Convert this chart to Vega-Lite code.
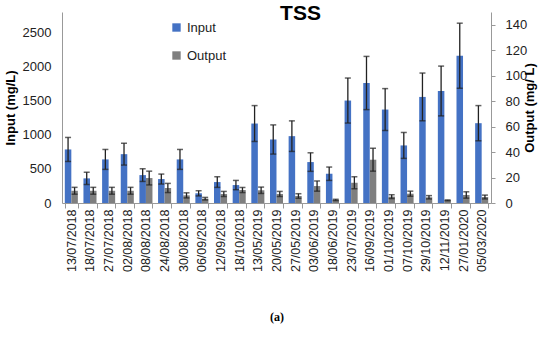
{
  "$schema": "https://vega.github.io/schema/vega-lite/v6.json",
  "autosize": "none",
  "width": 429,
  "height": 191,
  "padding": {"left": 62, "top": 12, "right": 59, "bottom": 139},
  "background": "white",
  "config": {"view": {"stroke": null}, "font": "Liberation Sans"},
  "title": {"text": "TSS", "fontSize": 21, "font": "Liberation Sans", "fontWeight": "bold", "color": "#000", "anchor": "middle", "dx": 24, "offset": -12},
  "datasets": {
    "rows": [
      {"date": "13/07/2018", "series": "Input", "value": 785, "lo": 609, "hi": 961},
      {"date": "18/07/2018", "series": "Input", "value": 361, "lo": 271, "hi": 451},
      {"date": "27/07/2018", "series": "Input", "value": 639, "lo": 493, "hi": 785},
      {"date": "02/08/2018", "series": "Input", "value": 716, "lo": 556, "hi": 876},
      {"date": "08/08/2018", "series": "Input", "value": 409, "lo": 316, "hi": 502},
      {"date": "24/08/2018", "series": "Input", "value": 351, "lo": 278, "hi": 424},
      {"date": "30/08/2018", "series": "Input", "value": 639, "lo": 493, "hi": 785},
      {"date": "06/09/2018", "series": "Input", "value": 142, "lo": 104, "hi": 180},
      {"date": "12/09/2018", "series": "Input", "value": 307, "lo": 229, "hi": 385},
      {"date": "18/10/2018", "series": "Input", "value": 263, "lo": 195, "hi": 331},
      {"date": "13/05/2019", "series": "Input", "value": 1165, "lo": 902, "hi": 1428},
      {"date": "20/05/2019", "series": "Input", "value": 931, "lo": 717, "hi": 1145},
      {"date": "27/05/2019", "series": "Input", "value": 980, "lo": 756, "hi": 1204},
      {"date": "03/06/2019", "series": "Input", "value": 600, "lo": 464, "hi": 736},
      {"date": "18/06/2019", "series": "Input", "value": 429, "lo": 331, "hi": 527},
      {"date": "23/07/2019", "series": "Input", "value": 1502, "lo": 1172, "hi": 1832},
      {"date": "16/09/2019", "series": "Input", "value": 1759, "lo": 1369, "hi": 2149},
      {"date": "01/10/2019", "series": "Input", "value": 1370, "lo": 1063, "hi": 1677},
      {"date": "07/10/2019", "series": "Input", "value": 844, "lo": 654, "hi": 1034},
      {"date": "29/10/2019", "series": "Input", "value": 1555, "lo": 1205, "hi": 1905},
      {"date": "12/11/2019", "series": "Input", "value": 1642, "lo": 1277, "hi": 2007},
      {"date": "27/01/2020", "series": "Input", "value": 2159, "lo": 1682, "hi": 2636},
      {"date": "05/03/2020", "series": "Input", "value": 1170, "lo": 912, "hi": 1428},
      {"date": "13/07/2018", "series": "Output", "value": 9.6, "lo": 6.9, "hi": 12.3},
      {"date": "18/07/2018", "series": "Output", "value": 9.6, "lo": 6.9, "hi": 12.3},
      {"date": "27/07/2018", "series": "Output", "value": 9.6, "lo": 6.9, "hi": 12.3},
      {"date": "02/08/2018", "series": "Output", "value": 9.6, "lo": 6.9, "hi": 12.3},
      {"date": "08/08/2018", "series": "Output", "value": 19.6, "lo": 14.2, "hi": 25.0},
      {"date": "24/08/2018", "series": "Output", "value": 11.8, "lo": 8.2, "hi": 15.4},
      {"date": "30/08/2018", "series": "Output", "value": 6.0, "lo": 4.0, "hi": 8.0},
      {"date": "06/09/2018", "series": "Output", "value": 3.4, "lo": 2.4, "hi": 4.4},
      {"date": "12/09/2018", "series": "Output", "value": 7.1, "lo": 5.1, "hi": 9.1},
      {"date": "18/10/2018", "series": "Output", "value": 10.2, "lo": 8.2, "hi": 12.2},
      {"date": "13/05/2019", "series": "Output", "value": 10.0, "lo": 7.5, "hi": 12.5},
      {"date": "20/05/2019", "series": "Output", "value": 7.1, "lo": 5.1, "hi": 9.1},
      {"date": "27/05/2019", "series": "Output", "value": 5.5, "lo": 3.7, "hi": 7.3},
      {"date": "03/06/2019", "series": "Output", "value": 13.3, "lo": 9.3, "hi": 17.3},
      {"date": "18/06/2019", "series": "Output", "value": 2.4, "lo": 1.9, "hi": 2.9},
      {"date": "23/07/2019", "series": "Output", "value": 15.9, "lo": 11.2, "hi": 20.6},
      {"date": "16/09/2019", "series": "Output", "value": 34.0, "lo": 25.0, "hi": 43.0},
      {"date": "01/10/2019", "series": "Output", "value": 5.0, "lo": 3.5, "hi": 6.5},
      {"date": "07/10/2019", "series": "Output", "value": 7.3, "lo": 5.3, "hi": 9.3},
      {"date": "29/10/2019", "series": "Output", "value": 4.5, "lo": 3.2, "hi": 5.8},
      {"date": "12/11/2019", "series": "Output", "value": 2.1, "lo": 1.8, "hi": 2.4},
      {"date": "27/01/2020", "series": "Output", "value": 6.3, "lo": 3.8, "hi": 8.8},
      {"date": "05/03/2020", "series": "Output", "value": 4.7, "lo": 3.2, "hi": 6.2}
    ]
  },
  "data": {"name": "rows"},
  "encoding": {
    "x": {
      "field": "date", "type": "nominal", "sort": null,
      "scale": {"paddingInner": 0.3, "paddingOuter": 0.15},
      "axis": {
        "title": "(a)", "titleFont": "Liberation Serif", "titleFontSize": 12, "titleFontWeight": "bold", "titleColor": "#000", "titlePadding": 40,
        "labelAngle": -90, "labelFontSize": 12.5, "labelColor": "#222", "labelPadding": 1,
        "domainColor": "#999", "tickColor": "#999", "tickSize": 5, "tickBand": "extent"
      }
    },
    "xOffset": {"field": "series", "type": "nominal", "scale": {"domain": ["Input", "Output"], "paddingInner": 0, "paddingOuter": 0}}
  },
  "layer": [
    {
      "transform": [{"filter": "datum.series === 'Input'"}],
      "encoding": {
        "y": {"field": "value", "type": "quantitative",
          "scale": {"domain": [0, 2800], "nice": false},
          "axis": {"orient": "left", "values": [0, 500, 1000, 1500, 2000, 2500], "format": "d", "title": "Input (mg/L)", "titleFontSize": 13, "titleFontWeight": "bold", "titleColor": "#000", "titlePadding": 5,
            "labelFontSize": 13, "labelColor": "#222", "labelPadding": 11, "ticks": false, "grid": false, "domainColor": "#999"}}
      },
      "layer": [
        {"mark": {"type": "bar"}, "encoding": {"color": {"field": "series", "type": "nominal", "scale": {"domain": ["Input", "Output"], "range": ["#4472C4", "#7F7F7F"]},
          "legend": {"orient": "none", "legendX": 108, "legendY": 9, "title": null, "symbolType": "square", "symbolSize": 70, "labelFontSize": 13, "labelColor": "#222", "rowPadding": 14, "labelOffset": 4}}}},
        {"mark": {"type": "rule", "color": "#222", "strokeWidth": 1.3}, "encoding": {"y": {"field": "lo", "type": "quantitative"}, "y2": {"field": "hi"}}},
        {"mark": {"type": "tick", "color": "#222", "size": 6, "thickness": 1.5}, "encoding": {"y": {"field": "hi", "type": "quantitative"}}},
        {"mark": {"type": "tick", "color": "#222", "size": 6, "thickness": 1.5}, "encoding": {"y": {"field": "lo", "type": "quantitative"}}}
      ]
    },
    {
      "transform": [{"filter": "datum.series === 'Output'"}],
      "encoding": {
        "y": {"field": "value", "type": "quantitative",
          "scale": {"domain": [0, 150], "nice": false},
          "axis": {"orient": "right", "values": [0, 20, 40, 60, 80, 100, 120, 140], "title": "Output (mg/ L)", "titleAngle": 270, "titleFontSize": 13, "titleFontWeight": "bold", "titleColor": "#000", "titlePadding": 10,
            "labelFontSize": 13, "labelColor": "#222", "labelPadding": 10, "tickSize": 4, "tickColor": "#999", "grid": false, "domainColor": "#999"}}
      },
      "layer": [
        {"mark": {"type": "bar"}, "encoding": {"color": {"field": "series", "type": "nominal"}}},
        {"mark": {"type": "rule", "color": "#222", "strokeWidth": 1.3}, "encoding": {"y": {"field": "lo", "type": "quantitative"}, "y2": {"field": "hi"}}},
        {"mark": {"type": "tick", "color": "#222", "size": 6, "thickness": 1.5}, "encoding": {"y": {"field": "hi", "type": "quantitative"}}},
        {"mark": {"type": "tick", "color": "#222", "size": 6, "thickness": 1.5}, "encoding": {"y": {"field": "lo", "type": "quantitative"}}}
      ]
    }
  ],
  "resolve": {"scale": {"y": "independent"}, "axis": {"y": "independent"}}
}
